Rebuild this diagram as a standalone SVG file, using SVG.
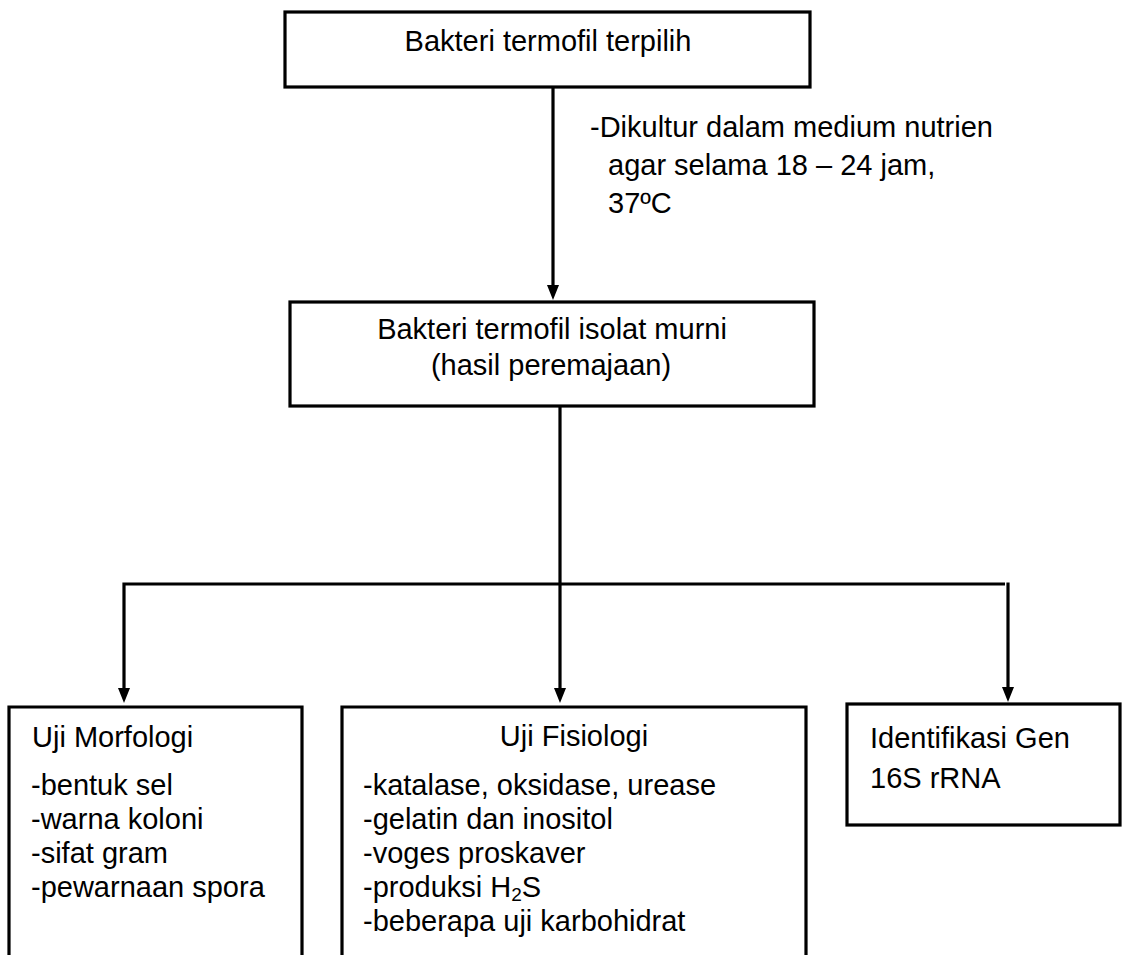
<svg xmlns="http://www.w3.org/2000/svg" width="1122" height="955" viewBox="0 0 1122 955">
  <style>
    .box { fill: #ffffff; stroke: #000000; stroke-width: 3.2; }
    .wire { fill: none; stroke: #000000; stroke-width: 3.2; }
    text { font-family: "Liberation Sans", Arial, sans-serif; font-size: 29px; fill: #000000; }
    .mid { text-anchor: middle; }
  </style>
  <defs>
    <marker id="arrow" viewBox="0 0 15 12" markerUnits="userSpaceOnUse" markerWidth="15" markerHeight="12" refX="5" refY="6" orient="auto">
      <path d="M0,0 L15,6 L0,12 z" fill="#000000"/>
    </marker>
  </defs>

  <rect width="1122" height="955" fill="#ffffff"/>

  <!-- connectors -->
  <g id="connectors">
    <line class="wire" x1="553" y1="87" x2="553" y2="290" marker-end="url(#arrow)"/>
    <line class="wire" x1="560" y1="406" x2="560" y2="693" marker-end="url(#arrow)"/>
    <path class="wire" d="M1005,584 H124 V693" marker-end="url(#arrow)"/>
    <line class="wire" x1="1008" y1="582.5" x2="1008" y2="692" marker-end="url(#arrow)"/>
  </g>

  <!-- step label on the first connector -->
  <g id="label-kultur">
    <text x="590" y="137">-Dikultur dalam medium nutrien</text>
    <text x="608" y="175">agar selama 18 – 24 jam,</text>
    <text x="608" y="213">37ºC</text>
  </g>

  <g id="node-terpilih">
    <rect class="box" x="285" y="12" width="525" height="75"/>
    <text class="mid" x="548" y="51">Bakteri termofil terpilih</text>
  </g>

  <g id="node-isolat">
    <rect class="box" x="290" y="302" width="524" height="104"/>
    <text class="mid" x="552" y="339">Bakteri termofil isolat murni</text>
    <text class="mid" x="551" y="375">(hasil peremajaan)</text>
  </g>

  <g id="node-morfologi">
    <path class="box" d="M9,970 V707 H302 V970"/>
    <text x="32" y="747">Uji Morfologi</text>
    <text x="31" y="795">-bentuk sel</text>
    <text x="31" y="829">-warna koloni</text>
    <text x="31" y="863">-sifat gram</text>
    <text x="31" y="897">-pewarnaan spora</text>
  </g>

  <g id="node-fisiologi">
    <path class="box" d="M342,970 V707 H806 V970"/>
    <text class="mid" x="574" y="746">Uji Fisiologi</text>
    <text x="363" y="795">-katalase, oksidase, urease</text>
    <text x="363" y="829">-gelatin dan inositol</text>
    <text x="363" y="863">-voges proskaver</text>
    <text x="363" y="897">-produksi H<tspan font-size="19" dy="4">2</tspan><tspan dy="-4">S</tspan></text>
    <text x="363" y="931">-beberapa uji karbohidrat</text>
  </g>

  <g id="node-gen">
    <rect class="box" x="847" y="704" width="273" height="121"/>
    <text x="870" y="748">Identifikasi Gen</text>
    <text x="870" y="788">16S rRNA</text>
  </g>
</svg>
